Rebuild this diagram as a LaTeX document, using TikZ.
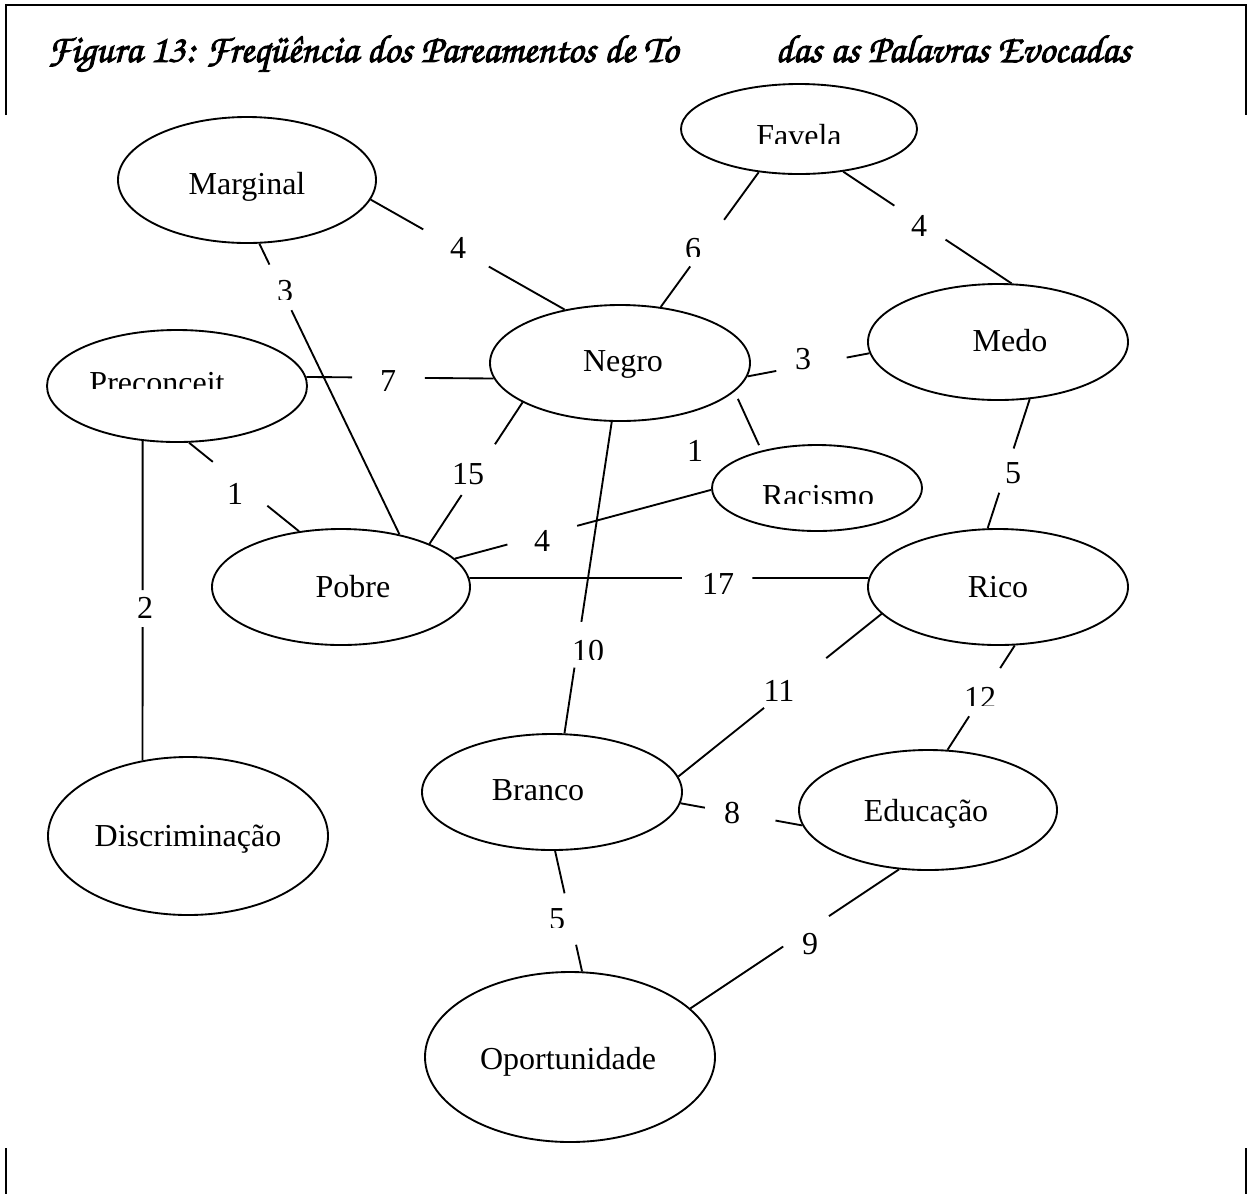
\documentclass[tikz,border=0pt]{standalone}
\usepackage[T1]{fontenc}
\usepackage{fontspec}
\setmainfont{Liberation Serif}
\usetikzlibrary{shapes.geometric,calc}

% calligraphic heading face (Zapf Chancery), set a little heavier
\newcommand\headfont{\fontencoding{T1}\fontfamily{pzc}\fontseries{mb}\fontshape{it}\fontsize{14.7}{16}\selectfont}
\newcommand\heavy[1]{\special{pdf:literal direct 2 Tr 0.35 w}#1\special{pdf:literal direct 0 Tr}}

% a connector broken by a gap where its number sits
\newcommand\gapline[4]{\draw[edge] (#1) -- ($(#1)!#3!(#2)$) ($(#1)!#4!(#2)$) -- (#2);}
% a word whose lower part is cut off by its text box
\newcommand\cword[5]{\begin{scope}\clip (#2-150,#3-60) rectangle (#2+150,#4);
  \node[word] (#1) at (#2,#3) {#5};\end{scope}}

\begin{document}
\begin{tikzpicture}[x=0.375pt,y=-0.375pt,
  frame/.style={line width=0.75pt},
  oval/.style 2 args={ellipse, draw, line width=0.7pt,
    minimum width=#1*0.375pt, minimum height=#2*0.375pt, inner sep=0pt},
  word/.style={font=\fontsize{12}{14}\selectfont, inner sep=0pt, anchor=base},
  edge/.style={line width=0.7pt}]
\useasboundingbox (0,0) rectangle (1250,1194);

% page frame pieces
\draw[frame] (6,115) -- (6,5) -- (1246,5) -- (1246,115);
\draw[frame] (6,1148) -- (6,1194);
\draw[frame] (1246,1148) -- (1246,1194);

% heading
\node[anchor=base west, inner sep=0pt, font=\headfont] (title1) at (47,62)
  {\heavy{Figura 13: Freq\"u\^encia dos Pareamentos de To}};
\node[anchor=base west, inner sep=0pt, font=\headfont] (title2) at (775,62)
  {\heavy{das as Palavras Evocadas}};

% word ovals
\node[oval={258}{126}] (mar) at (247,180) {};
\node[oval={236}{90}]  (fav) at (799,129) {};
\node[oval={260}{112}] (pre) at (177,386) {};
\node[oval={260}{116}] (neg) at (620,363) {};
\node[oval={260}{116}] (med) at (998,342) {};
\node[oval={210}{86}]  (rac) at (817,488) {};
\node[oval={258}{116}] (pob) at (341,587) {};
\node[oval={260}{116}] (ric) at (998,587) {};
\node[oval={280}{158}] (dis) at (188,836) {};
\node[oval={260}{116}] (bra) at (552,792) {};
\node[oval={258}{120}] (edu) at (928,810) {};
\node[oval={290}{170}] (opo) at (570,1057) {};

% words
\node[word] (tmar) at (247,194) {Marginal};
\cword{tfav}{799}{146}{143}{Favela}
\cword{tpre}{157}{393}{388}{Preconceit}
\node[word] (tneg) at (623,371) {Negro};
\node[word] (tmed) at (1010,351) {Medo};
\cword{trac}{818}{506}{503}{Racismo}
\node[word] (tpob) at (353,597) {Pobre};
\node[word] (tric) at (998,597) {Rico};
\node[word] (tdis) at (188,846) {Discriminação};
\node[word] (tbra) at (538,800) {Branco};
\node[word] (tedu) at (926,821) {Educação};
\node[word] (topo) at (568,1069) {Oportunidade};

% pairings
\gapline{mar.-9}{neg.136}{0.271}{0.609}
\gapline{mar.-79}{pob.42}{0.072}{0.229}
\gapline{fav.-133}{neg.54}{0.353}{0.699}
\gapline{fav.-44}{med.77}{0.304}{0.608}
\gapline{pre.4}{neg.187}{0.245}{0.633}
\gapline{pre.-78}{pob.127}{0.216}{0.712}
\gapline{pre.-122}{dis.121}{0.467}{0.583}
\gapline{neg.202}{pob.26}{0.296}{0.655}
\gapline{neg.-6}{med.185}{0.236}{0.813}
\draw[edge, shorten <=3pt, shorten >=2.25pt] (neg.-14) -- (rac.146);
\gapline{neg.-98}{bra.78}{0.642}{0.789}
\gapline{rac.181}{pob.14}{0.523}{0.795}
\gapline{pob.4}{ric.176}{0.532}{0.709}
\gapline{med.-61}{ric.100}{0.382}{0.725}
\gapline{ric.193}{bra.7}{0.272}{0.578}
\gapline{ric.-74}{edu.72}{0.217}{0.679}
\gapline{bra.-5}{edu.187}{0.2}{0.78}
\gapline{bra.-87}{opo.82}{0.352}{0.779}
\gapline{edu.-116}{opo.22}{0.336}{0.555}

% pairing counts
\node[word] (n1) at (458,258) {4};
\cword{n2}{285}{301}{299}{3}
\cword{n3}{693}{259}{256}{6}
\node[word] (n4) at (919,236) {4};
\node[word] (n5) at (388,391) {7};
\node[word] (n6) at (235,504) {1};
\node[word] (n7) at (145,618) {2};
\node[word] (n8) at (468,484) {15};
\node[word] (n9) at (803,369) {3};
\node[word] (n10) at (695,461) {1};
\cword{n11}{588}{661}{659}{10}
\node[word] (n12) at (542,551) {4};
\node[word] (n13) at (718,594) {17};
\node[word] (n14) at (1013,483) {5};
\node[word] (n15) at (779,701) {11};
\cword{n16}{980}{708}{705}{12}
\node[word] (n17) at (732,823) {8};
\cword{n18}{557}{929}{927}{5}
\node[word] (n19) at (810,954) {9};
\end{tikzpicture}
\end{document}
